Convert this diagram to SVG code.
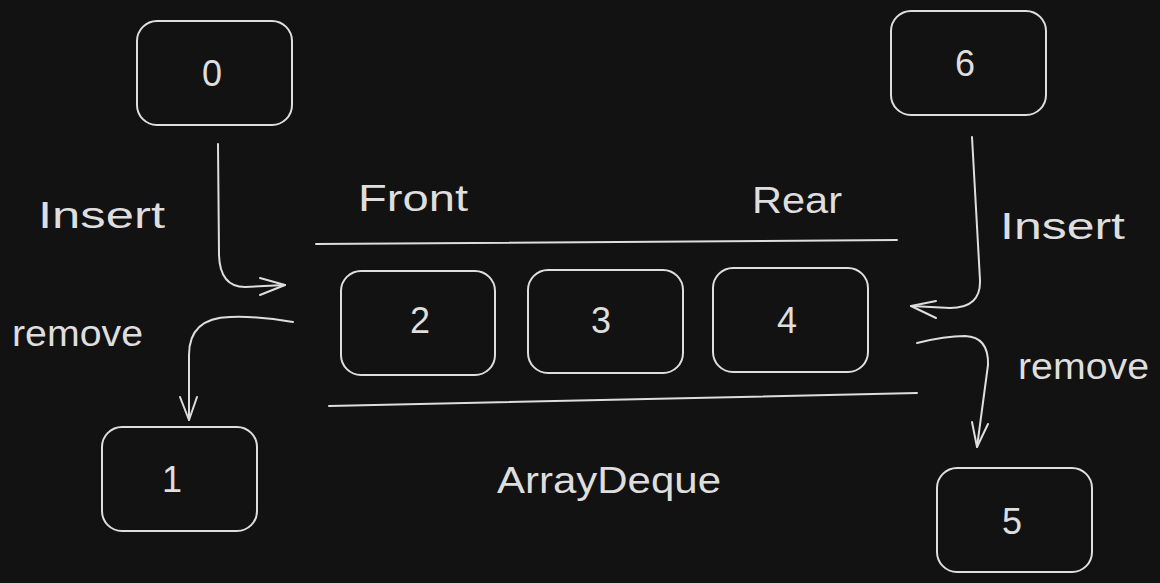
<svg xmlns="http://www.w3.org/2000/svg" width="1160" height="583" viewBox="0 0 1160 583">
<defs>
<style>
.bx{fill:none;stroke:#dedede;stroke-width:2;}
.ln{fill:none;stroke:#dedede;stroke-width:2;stroke-linecap:round;stroke-linejoin:round;}
.t{font-family:"Liberation Sans","Noto Sans",sans-serif;fill:#dedede;font-size:36px;}
.d{font-family:"Liberation Sans","Noto Sans",sans-serif;fill:#dedede;font-size:36px;text-anchor:middle;}
</style>
</defs>
<rect width="1160" height="583" fill="#121212"/>
<g id="node-0"><rect class="bx" x="137" y="21" width="155" height="104" rx="20"/><text class="d" x="212" y="86">0</text></g>
<g id="node-6"><rect class="bx" x="891" y="11" width="155" height="104" rx="20"/><text class="d" x="965" y="76">6</text></g>
<g id="node-2"><rect class="bx" x="341" y="271" width="154" height="104" rx="20"/><text class="d" x="420" y="333">2</text></g>
<g id="node-3"><rect class="bx" x="528" y="270" width="155" height="103" rx="20"/><text class="d" x="601" y="333">3</text></g>
<g id="node-4"><rect class="bx" x="713" y="268" width="155" height="104" rx="20"/><text class="d" x="787" y="333">4</text></g>
<g id="node-1"><rect class="bx" x="102" y="427" width="155" height="104" rx="20"/><text class="d" x="172" y="492">1</text></g>
<g id="node-5"><rect class="bx" x="937" y="468" width="155" height="104" rx="20"/><text class="d" x="1012" y="534">5</text></g>
<g id="lines">
<path class="ln" d="M316 244 L897 240"/>
<path class="ln" d="M329 406 L917 393"/>
</g>
<g id="labels">
<text class="t" x="358" y="211" textLength="110" lengthAdjust="spacingAndGlyphs">Front</text>
<text class="t" x="752" y="213" textLength="90" lengthAdjust="spacingAndGlyphs">Rear</text>
<text class="t" x="38" y="228" textLength="127" lengthAdjust="spacingAndGlyphs">Insert</text>
<text class="t" x="1000" y="239" textLength="125" lengthAdjust="spacingAndGlyphs">Insert</text>
<text class="t" x="12" y="346" textLength="131" lengthAdjust="spacingAndGlyphs">remove</text>
<text class="t" x="1018" y="379" textLength="131" lengthAdjust="spacingAndGlyphs">remove</text>
<text class="t" x="497" y="493" textLength="224" lengthAdjust="spacingAndGlyphs">ArrayDeque</text>
</g>
<g id="connectors">
<path class="ln" d="M218 144 L219 255 Q220 287 245 287 L285 285"/>
<path class="ln" d="M260 278 L285 285 L260 295"/>
<path class="ln" d="M972 137 L980 280 Q981 308 950 308 L911 306"/>
<path class="ln" d="M936 301 L911 306 L936 318"/>
<path class="ln" d="M293 322 Q260 316 230 317 Q189 318 189 355 L189 420"/>
<path class="ln" d="M180 397 L189 420 L197 397"/>
<path class="ln" d="M917 343 Q945 336 965 336 Q989 337 988 365 L977 447"/>
<path class="ln" d="M972 422 L977 447 L988 424"/>
</g>
</svg>
